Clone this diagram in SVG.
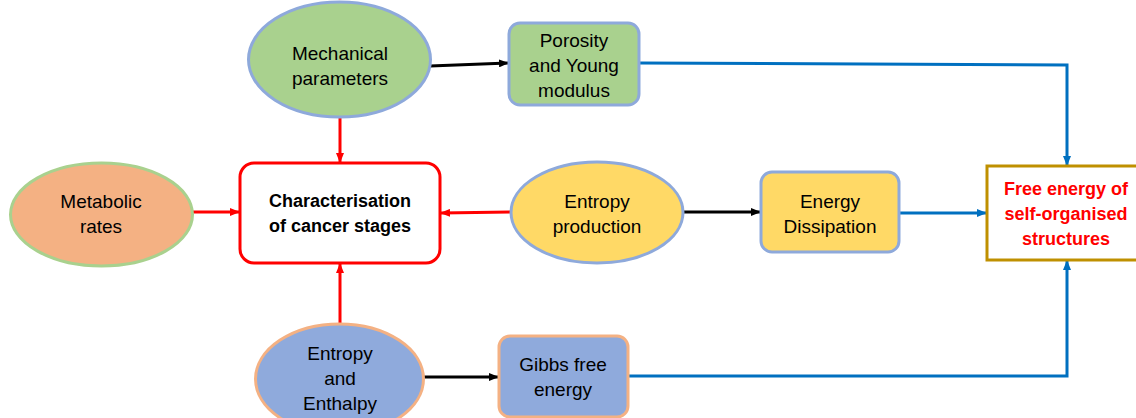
<svg xmlns="http://www.w3.org/2000/svg" width="1136" height="418" viewBox="0 0 1136 418">
<style>
text{font-family:"Liberation Sans",Arial,sans-serif;font-size:19px;fill:#000;text-anchor:middle}
.b{font-weight:bold;font-size:18px}
.red{fill:#FF0000}
.n{stroke-width:3}
.k{stroke:#000;stroke-width:3;fill:none}
.r{stroke:#FF0000;stroke-width:3;fill:none}
.u{stroke:#0070C0;stroke-width:3;fill:none}
</style>
<defs>
<marker id="ak" markerWidth="10" markerHeight="8" refX="9" refY="4" orient="auto" markerUnits="userSpaceOnUse"><path d="M0,0 L10,4 L0,8 z" fill="#000"/></marker>
<marker id="ar" markerWidth="10" markerHeight="8" refX="9" refY="4" orient="auto" markerUnits="userSpaceOnUse"><path d="M0,0 L10,4 L0,8 z" fill="#FF0000"/></marker>
<marker id="au" markerWidth="10" markerHeight="8" refX="9" refY="4" orient="auto" markerUnits="userSpaceOnUse"><path d="M0,0 L10,4 L0,8 z" fill="#0070C0"/></marker>
</defs>
<g id="connectors">
<path class="k" d="M430,66 L508,63" marker-end="url(#ak)"/>
<path class="k" d="M683,212 L760,212" marker-end="url(#ak)"/>
<path class="k" d="M423,377 L498,377" marker-end="url(#ak)"/>
<path class="r" d="M193,212 L239,212" marker-end="url(#ar)"/>
<path class="r" d="M340,118 L340,162" marker-end="url(#ar)"/>
<path class="r" d="M512,212 L441,213" marker-end="url(#ar)"/>
<path class="r" d="M340,325 L340,264" marker-end="url(#ar)"/>
<path class="u" d="M639,63 L1067,65 L1067,165" marker-end="url(#au)"/>
<path class="u" d="M899,213 L986,213" marker-end="url(#au)"/>
<path class="u" d="M629,376 L1067,376 L1067,261" marker-end="url(#au)"/>
</g>
<g id="mechanical">
<ellipse class="n" cx="339.5" cy="59.5" rx="91" ry="57.5" fill="#A9D18E" stroke="#8EA9DB"/>
<text x="340" y="60">Mechanical</text>
<text x="340" y="85">parameters</text>
</g>
<g id="porosity">
<rect class="n" x="509" y="23" width="130" height="82" rx="11" fill="#A9D18E" stroke="#8EA9DB"/>
<text x="574" y="47">Porosity</text>
<text x="574" y="72">and Young</text>
<text x="574" y="97">modulus</text>
</g>
<g id="metabolic">
<ellipse class="n" cx="101.5" cy="214.5" rx="91" ry="51.5" fill="#F4B183" stroke="#A9D18E"/>
<text x="101" y="208">Metabolic</text>
<text x="101" y="233">rates</text>
</g>
<g id="characterisation">
<rect class="n" x="240" y="163" width="200" height="100" rx="14" fill="#FFFFFF" stroke="#FF0000"/>
<text class="b" x="340" y="207">Characterisation</text>
<text class="b" x="340" y="232">of cancer stages</text>
</g>
<g id="entropy-production">
<ellipse class="n" cx="597" cy="212.5" rx="86" ry="50.5" fill="#FFD966" stroke="#8EA9DB"/>
<text x="597" y="208">Entropy</text>
<text x="597" y="233">production</text>
</g>
<g id="energy-dissipation">
<rect class="n" x="761" y="172" width="138" height="80" rx="11" fill="#FFD966" stroke="#8EA9DB"/>
<text x="830" y="208">Energy</text>
<text x="830" y="233">Dissipation</text>
</g>
<g id="free-energy">
<rect class="n" x="987" y="166" width="160" height="94" fill="#FFFFFF" stroke="#BF9000"/>
<text class="b red" x="1066" y="195">Free energy of</text>
<text class="b red" x="1066" y="220">self-organised</text>
<text class="b red" x="1066" y="245">structures</text>
</g>
<g id="entropy-enthalpy">
<ellipse class="n" cx="339.5" cy="379" rx="84" ry="55" fill="#8FAADC" stroke="#F4B183"/>
<text x="340" y="360">Entropy</text>
<text x="340" y="385">and</text>
<text x="340" y="410">Enthalpy</text>
</g>
<g id="gibbs">
<rect class="n" x="499" y="336" width="129" height="81" rx="11" fill="#8FAADC" stroke="#F4B183"/>
<text x="563" y="371">Gibbs free</text>
<text x="563" y="396">energy</text>
</g>
</svg>
